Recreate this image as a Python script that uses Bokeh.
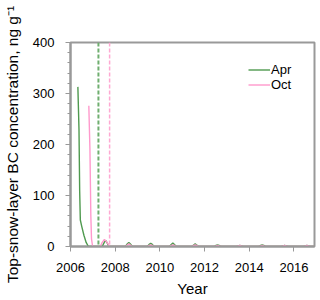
from bokeh.plotting import figure
from bokeh.models import Range1d, SingleIntervalTicker, FixedTicker, Span, Legend, LegendItem
from bokeh.embed import file_html
from bokeh.resources import INLINE

# ---- data ----
apr_year = [2006.33, 2006.38, 2006.41, 2006.44, 2006.50, 2006.60, 2006.70, 2006.80,
            2007.42, 2007.50, 2007.57, 2007.64, 2007.72,
            2008.46, 2008.54, 2008.61, 2008.68, 2008.76,
            2009.44, 2009.52, 2009.59, 2009.66, 2009.74,
            2010.43, 2010.51, 2010.58, 2010.65, 2010.73,
            2011.43, 2011.51, 2011.58, 2011.65, 2011.73,
            2012.43, 2012.51, 2012.58, 2012.65, 2012.73,
            2013.43, 2013.51, 2013.58, 2013.65, 2013.73,
            2014.43, 2014.51, 2014.58, 2014.65, 2014.73,
            2015.43, 2015.51, 2015.58, 2015.65, 2015.73,
            2016.43, 2016.51, 2016.58, 2016.65, 2016.73, 2016.92]
apr_bc = [313, 230, 110, 52, 40, 22, 8, 0,
          0, 7, 12, 7, 0,
          0, 5, 8, 5, 0,
          0, 4, 6, 4, 0,
          0, 4, 7, 4, 0,
          0, 3, 5, 3, 0,
          0, 2, 3, 2, 0,
          0, 1, 2, 1, 0,
          0, 2, 3, 2, 0,
          0, 1, 2, 1, 0,
          0, 1, 2, 1, 0, 0]

oct_year = [2006.82, 2006.87, 2006.91, 2006.94, 2006.99,
            2007.33, 2007.42, 2007.52, 2007.62, 2007.75,
            2008.46, 2008.54, 2008.61, 2008.68, 2008.76,
            2009.44, 2009.52, 2009.59, 2009.66, 2009.74,
            2010.43, 2010.51, 2010.58, 2010.65, 2010.73,
            2011.43, 2011.51, 2011.58, 2011.65, 2011.73,
            2012.43, 2012.51, 2012.58, 2012.65, 2012.73,
            2013.43, 2013.51, 2013.58, 2013.65, 2013.73,
            2014.43, 2014.51, 2014.58, 2014.65, 2014.73,
            2015.43, 2015.51, 2015.58, 2015.65, 2015.73,
            2016.43, 2016.51, 2016.58, 2016.65, 2016.73, 2016.92]
oct_bc = [276, 190, 60, 15, 0,
          0, 8, 14, 9, 0,
          0, 3, 5, 3, 0,
          0, 2, 3, 2, 0,
          0, 2, 3, 2, 0,
          0, 2, 3, 2, 0,
          0, 1, 2, 1, 0,
          0, 1, 2, 1, 0,
          0, 1, 2, 1, 0,
          0, 1, 2, 1, 0,
          0, 1, 2, 1, 0, 0]

event_apr = 2007.25
event_oct = 2007.75
x_ticks = [2006, 2008, 2010, 2012, 2014, 2016]
series_names = ["Apr", "Oct"]

GREEN = "#4f9a4f"
PINK = "#ff99cc"
GREEN_D = "#6fae6f"
PINK_D = "#ffa8d2"
GREY = "#999999"
FONT = "Liberation Sans"

p = figure(width=320, height=300, output_backend="svg", toolbar_location=None,
           x_range=Range1d(2006, 2016.92), y_range=Range1d(0, 400),
           min_border_left=70, min_border_right=6, min_border_top=42, min_border_bottom=54)
p.xgrid.visible = False
p.ygrid.visible = False
p.outline_line_color = GREY
p.outline_line_width = 2

p.add_layout(Span(location=event_apr, dimension="height", line_color=GREEN_D,
                  line_dash="4 2", line_width=2))
p.add_layout(Span(location=event_oct, dimension="height", line_color=PINK_D,
                  line_dash="4 2", line_width=1.5))

r1 = p.line(apr_year, apr_bc, line_color=GREEN, line_width=1.4)
r2 = p.line(oct_year, oct_bc, line_color=PINK, line_width=1.4)

legend = Legend(items=[LegendItem(label=series_names[0], renderers=[r1]),
                       LegendItem(label=series_names[1], renderers=[r2])],
                location=(178, 154), padding=0, margin=0, spacing=0,
                glyph_width=22, glyph_height=15, label_standoff=1,
                label_text_font=FONT, label_text_font_size="13px",
                label_text_color="black",
                label_height=15, border_line_color=None, background_fill_alpha=0)
p.add_layout(legend)

p.xaxis.ticker = FixedTicker(ticks=x_ticks, minor_ticks=[])
p.yaxis.ticker = SingleIntervalTicker(interval=100, num_minor_ticks=5)
for ax in (p.xaxis[0], p.yaxis[0]):
    ax.axis_line_color = GREY
    ax.axis_line_width = 2
    ax.major_tick_line_color = GREY
    ax.minor_tick_line_color = GREY
    ax.major_tick_in = 0
    ax.major_tick_out = 5
    ax.minor_tick_in = 0
    ax.minor_tick_out = 3
    ax.major_label_text_font = FONT
    ax.major_label_text_font_size = "13px"
    ax.major_label_text_color = "black"
    ax.axis_label_text_font = FONT
    ax.axis_label_text_font_size = "15px"
    ax.axis_label_text_font_style = "normal"
    ax.axis_label_text_color = "black"

p.xaxis.axis_label = "Year"
p.xaxis.major_label_standoff = 11
p.xaxis.axis_label_standoff = 5
p.yaxis.axis_label = "Top-snow-layer BC concentration, ng g\u207b\u00b9"
p.yaxis.axis_label_text_font_size = "15.5px"
p.yaxis.major_label_standoff = 11
p.yaxis.axis_label_standoff = 9

open("out.html", "w").write(file_html(p, INLINE))
